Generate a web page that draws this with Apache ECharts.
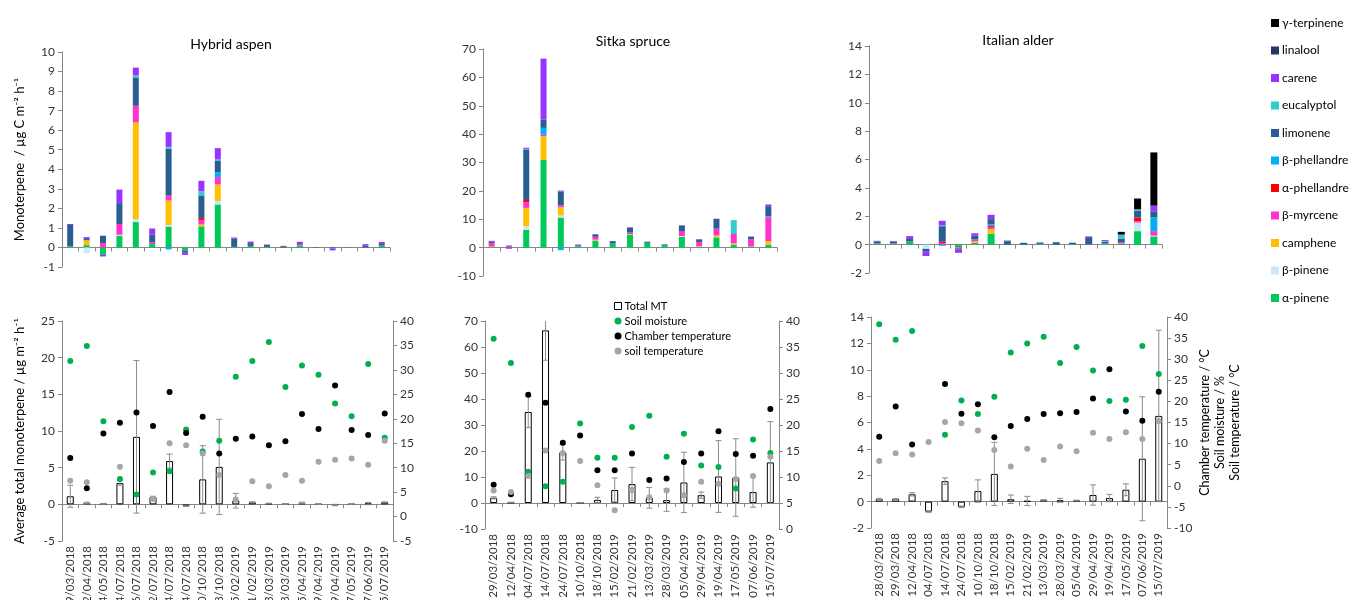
<!DOCTYPE html>
<html><head><meta charset="utf-8">
<script src="https://cdn.jsdelivr.net/npm/echarts@6/dist/echarts.min.js"></script>
<style>html,body{margin:0;padding:0;background:#fff}#c{width:1349px;height:600px}</style>
</head><body><div id="c"></div>
<script>
// ---------- categories ----------
const aspenDates = ['29/03/2018','12/04/2018','24/05/2018','04/07/2018','06/07/2018','12/07/2018','14/07/2018','24/07/2018','10/10/2018','18/10/2018','15/02/2019','21/02/2019','13/03/2019','28/03/2019','05/04/2019','29/04/2019','19/04/2019','17/05/2019','07/06/2019','15/07/2019'];
const sitkaDates = ['29/03/2018','12/04/2018','04/07/2018','14/07/2018','24/07/2018','10/10/2018','18/10/2018','15/02/2019','21/02/2019','13/03/2019','28/03/2019','05/04/2019','29/04/2019','19/04/2019','17/05/2019','07/06/2019','15/07/2019'];
const alderDates = ['28/03/2018','29/03/2018','12/04/2018','04/07/2018','14/07/2018','24/07/2018','10/10/2018','18/10/2018','15/02/2019','21/02/2019','13/03/2019','28/03/2019','05/04/2019','29/04/2019','19/04/2019','17/05/2019','07/06/2019','15/07/2019'];

// ---------- compounds (stack order bottom -> top) ----------
const compounds = ['α-pinene','β-pinene','camphene','β-myrcene','α-phellandrene','β-phellandrene','limonene','eucalyptol','carene','linalool','γ-terpinene'];
const compoundColors = ['#00C85A','#C9E8FB','#FFC000','#FF33CC','#FF0000','#00B0F0','#2A5E92','#33CCCC','#9933FF','#1F3864','#000000'];

// ---------- Hybrid aspen compounds ----------
const aspenAPinene   = [0.05,0.12,-0.38,0.6,1.3,0.17,1.07,-0.17,1.08,2.2,0.03,0.08,0.03,0,0.1,0,0,0,0,0.1];
const aspenBPinene   = [0,-0.3,0,0.05,0.15,0,0.08,0,0,0.18,0,0,0,0,0,0,0,0,0,0];
const aspenCamphene  = [0,0.25,0,0,4.95,0,1.25,0,0.1,0.84,0,0,0,0,0,0,0,0,0,0];
const aspenBMyrcene  = [0,0,0.22,0.55,0.85,0.08,0.25,0,0.2,0.38,0,0,0,0,0.03,0,0,0,0,0];
const aspenAPhell    = [0,0,0,0,0,0,0,0,0.12,0,0,0,0,0,0,0,0,0,0,0];
const aspenBPhell    = [0,0,0,0,0,0,-0.1,0,0,0.25,0,0,0,0,0,0,0,0,0,0];
const aspenLimonene  = [1.1,0.06,0.38,1.07,1.45,0.4,2.4,-0.07,1.16,0.6,0.42,0.14,0.1,0.06,0.04,0.02,-0.05,0.01,0.1,0.08];
const aspenEucalyptol= [0,0,0,0,0.1,0,0.1,0,0.22,0.05,0,0,0,0,0,0,0,0,0,0];
const aspenCarene    = [0.05,0.1,-0.08,0.69,0.4,0.32,0.75,-0.14,0.53,0.58,0.05,0.08,0.02,0,0.12,0,-0.1,0,0.07,0.1];
const aspenLinalool  = [0,0,0,0,0,0,0,0,0,0,0.01,0,0,0.02,0,0,0,0,0,0];
const aspenGTerpinene= [0,0,0,0,0,0,0,0,0,0,0,0,0,0,0,0,0,0,0,0];

// ---------- Sitka spruce compounds ----------
const sitkaAPinene   = [0.2,0.2,6.3,30.9,10.6,0.4,2.5,1.4,4.5,1.7,0.8,3.8,0.2,3.6,1.0,0.3,1.0];
const sitkaBPinene   = [0,0,1.2,0,0.7,0,0,0,0,0,0,0.3,0,0,0,0,0];
const sitkaCamphene  = [0.2,0,6.5,8.3,2.9,0,0.3,0,0.3,0,0,0,0.3,0.7,0.5,0.1,1.3];
const sitkaBMyrcene  = [1.2,0.5,1.9,0.6,0.7,0,1.0,0,0.5,0,0,1.4,1.5,2.4,3.3,2.6,8.4];
const sitkaAPhell    = [0,0,0.9,0,0,0,0,0,0,0,0,0.2,0,0,0,0,0];
const sitkaBPhell    = [0,0,0,2.4,-0.9,0,0,0,0,0,0,0,0,0,0,0,0.3];
const sitkaLimonene  = [0.6,0.1,17.8,3.0,4.9,0.4,0.8,0.9,1.7,0.4,0.3,2.1,0.9,3.4,0,0.9,3.6];
const sitkaEucalyptol= [0,0,0.2,0,0,0,0,0,0,0,0,0,0,0,4.9,0.1,0];
const sitkaCarene    = [0.2,-0.4,0.4,21.4,0.3,0.3,0.2,0,0.2,0,0.1,0.1,0.1,0.1,0,0,0.6];
const sitkaLinalool  = [0,0,0,0,0,0,0,0,0,0,0,0,0,0,0,0,0];
const sitkaGTerpinene= [0,0,0,0,0,0,0,0,0,0,0,0,0,0,0,0,0];

// ---------- Italian alder compounds ----------
const alderAPinene   = [0.08,0.03,0.22,0,0,-0.18,0.12,0.78,0,0,0.05,0,0.03,0,0.1,0.08,0.95,0.58];
const alderBPinene   = [0,0,0,-0.3,0,0,0,0,0,0,0,0,0,0,0,0,0.6,0.05];
const alderCamphene  = [0,0.04,0,0,0,0,0.1,0.3,0,0,0,0,0,0,0,0,0,0];
const alderBMyrcene  = [0,0,0,0,0.12,-0.08,0.15,0.17,0,0,0,0,0,0.03,0,0.1,0.1,0.32];
const alderAPhell    = [0,0,0,0,0.08,0,0,0.07,0,0,0,0,0,0,0,0,0.25,0];
const alderBPhell    = [0,0,0,0,-0.08,0,0,0.1,0,0,0,0,0,0,0,0,0,0.97];
const alderLimonene  = [0.15,0.15,0.18,-0.2,1.1,-0.1,0.25,0.38,0.24,0.13,0.1,0.17,0.1,0.5,0.1,0.25,0.5,0.43];
const alderEucalyptol= [0,0,0,0,0.05,0,0,0,0,0,0,0,0.02,0,0.05,0.25,0.08,0];
const alderCarene    = [0.04,0.04,0.2,-0.3,0.33,-0.22,0.18,0.3,0,0,0,0,0,0.05,0.07,0,0,0.4];
const alderLinalool  = [0,0,0,0,0,0,0,0,0.04,0,0,0,0,0,0,0.05,0,0];
const alderGTerpinene= [0,0,0,0,0,0,0,0,0,0,0,0,0,0,0,0.17,0.77,3.75];

// ---------- bottom panels ----------
const aspenTotal   = [1.1,0.2,0.05,2.9,9.2,1.0,5.9,-0.2,3.4,5.1,0.5,0.3,0.1,0.03,0.2,0.02,-0.1,0.02,0.1,0.3];
const aspenErr     = [1.5,0.1,0.05,0.3,10.4,0.1,0.95,0.1,4.6,6.5,1.0,0.05,0.05,0.03,0.1,0.02,0.1,0.02,0.15,0.05];
const aspenMoist   = [31.8,34.9,19.5,7.7,4.5,9.0,9.25,17.8,13.3,15.5,28.6,31.8,35.7,26.5,30.9,29.0,23.1,20.5,31.2,16.1];
const aspenChamber = [12.0,5.8,17.0,19.2,21.3,18.5,25.5,17.1,20.4,12.9,15.9,16.4,14.6,15.4,21.0,17.9,26.8,17.7,16.7,21.1];
const aspenSoilT   = [7.3,7.0,'-',10.2,'-',3.6,15.0,14.6,12.9,8.5,3.5,7.2,6.2,8.5,7.3,11.2,11.6,11.9,10.6,15.5];

const sitkaTotal   = [2.0,0.2,35.0,66.4,19.5,0.1,1.2,5.0,7.3,2.0,1.1,7.9,3.0,10.2,9.8,4.2,15.6];
const sitkaErr     = [0.4,0.1,6.0,11.5,3.0,0.1,1.0,4.6,6.4,4.0,4.3,11.6,1.2,13.8,14.9,5.8,15.7];
const sitkaMoist   = [36.6,31.9,11.0,8.2,9.1,20.3,13.7,13.7,19.6,21.8,13.9,18.3,12.2,11.9,7.8,17.2,14.6];
const sitkaChamber = [8.5,6.7,25.8,24.3,16.6,18.0,11.3,11.3,14.5,9.4,9.7,12.9,14.5,18.8,14.4,14.1,23.1];
const sitkaSoilT   = [7.4,7.1,10.2,15.1,14.6,13.1,8.4,3.6,7.5,6.1,7.4,6.5,9.1,8.7,9.6,10.2,13.9];

const alderTotal   = [0.2,0.2,0.55,-0.76,1.55,-0.4,0.8,2.1,0.18,0.05,0.1,0.1,0.08,0.5,0.27,0.9,3.25,6.5];
const alderErr     = [0.05,0.03,0.12,0.05,0.25,0.05,0.85,2.4,0.32,0.35,0.05,0.15,0.03,0.77,0.28,0.45,4.7,6.5];
const alderMoist   = [38.3,34.6,36.7,'-',12.1,20.2,17.0,21.1,31.6,33.7,35.3,29.1,32.9,27.3,20.1,20.4,33.1,26.5];
const alderChamber = [11.6,18.8,9.8,'-',24.1,17.1,19.3,11.5,14.2,15.8,17.0,17.2,17.5,20.7,27.6,17.6,15.4,22.3];
const alderSoilT   = [5.9,7.7,7.4,10.4,15.1,14.8,13.1,8.5,4.6,8.8,6.1,9.3,8.2,12.6,11.1,12.7,11.1,15.3];

// ---------- titles / axis names ----------
const panelTitles = ['Hybrid aspen','Sitka spruce','Italian alder'];
const topYName = 'Monoterpene  / µg C m\u207B\u00B2 h\u207B\u00B9';
const bottomYName = 'Average total monoterpene / µg m\u207B\u00B2 h\u207B\u00B9';
const rightYName = 'Chamber temperature / \u00B0C\nSoil moisture / %\nSoil temperature / \u00B0C';

// ---------- build ----------
const FF = 'Lato, "Noto Sans", sans-serif';
const AX = '#868686';
const LBL = '#333333';

const aspenStack = [aspenAPinene,aspenBPinene,aspenCamphene,aspenBMyrcene,aspenAPhell,aspenBPhell,aspenLimonene,aspenEucalyptol,aspenCarene,aspenLinalool,aspenGTerpinene];
const sitkaStack = [sitkaAPinene,sitkaBPinene,sitkaCamphene,sitkaBMyrcene,sitkaAPhell,sitkaBPhell,sitkaLimonene,sitkaEucalyptol,sitkaCarene,sitkaLinalool,sitkaGTerpinene];
const alderStack = [alderAPinene,alderBPinene,alderCamphene,alderBMyrcene,alderAPhell,alderBPhell,alderLimonene,alderEucalyptol,alderCarene,alderLinalool,alderGTerpinene];

const grid = [
  {left:62, width:328, top:52, height:215},
  {left:483, width:294, top:49, height:227},
  {left:869, width:293, top:46, height:227},
  {left:62, width:331, top:321, height:220},
  {left:485, width:294, top:321, height:208},
  {left:871, width:296, top:317, height:211}
].map(function(g){ return Object.assign({outerBoundsMode:'none', containLabel:false}, g); });

function zeroX(gi, data) {
  return {type:'category', gridIndex:gi, data:data, boundaryGap:true,
    axisLine:{show:true, onZero:true, lineStyle:{color:AX, width:1}},
    axisTick:{show:true, interval:0, length:4, lineStyle:{color:AX}},
    axisLabel:{show:false}, splitLine:{show:false}};
}
function labelX(gi, data) {
  return {type:'category', gridIndex:gi, data:data, boundaryGap:true, position:'bottom',
    axisLine:{show:false, onZero:false}, axisTick:{show:false},
    axisLabel:{show:true, interval:0, rotate:90, fontSize:11.5, color:LBL, fontFamily:FF, margin:5},
    splitLine:{show:false}};
}
function yAx(gi, min, max, interval, extra) {
  return Object.assign({type:'value', gridIndex:gi, min:min, max:max, interval:interval,
    splitLine:{show:false},
    axisLine:{show:true, lineStyle:{color:AX}},
    axisTick:{show:true, length:4, lineStyle:{color:AX}},
    axisLabel:{fontSize:12, color:LBL, fontFamily:FF, margin:7}}, extra || {});
}

const xAxis = [
  zeroX(0, aspenDates), zeroX(1, sitkaDates), zeroX(2, alderDates),
  zeroX(3, aspenDates), zeroX(4, sitkaDates), zeroX(5, alderDates),
  labelX(3, aspenDates), labelX(4, sitkaDates), labelX(5, alderDates)
];
const yAxis = [
  yAx(0, -1, 10, 1, {name:topYName, nameLocation:'middle', nameGap:36, nameTextStyle:{fontSize:13, color:'#000', fontFamily:FF}}),
  yAx(1, -10, 70, 10),
  yAx(2, -2, 14, 2),
  yAx(3, -5, 25, 5, {name:bottomYName, nameLocation:'middle', nameGap:36, nameTextStyle:{fontSize:13, color:'#000', fontFamily:FF}}),
  yAx(4, -10, 70, 10),
  yAx(5, -2, 14, 2),
  yAx(3, -5, 40, 5, {position:'right'}),
  yAx(4, 0, 40, 5, {position:'right'}),
  yAx(5, -10, 40, 5, {position:'right', name:rightYName, nameLocation:'middle', nameGap:30,
      nameTextStyle:{fontSize:12.5, color:'#000', fontFamily:FF, lineHeight:15, align:'center'}})
];

const series = [];
function addStack(key, stack, xi, yi, bw) {
  compounds.forEach(function(name, k) {
    series.push({name:name, type:'bar', stack:key, xAxisIndex:xi, yAxisIndex:yi, barWidth:bw,
      itemStyle:{color:compoundColors[k]}, data:stack[k], silent:true, animation:false});
  });
}
addStack('aspen', aspenStack, 0, 0, 6);
addStack('sitka', sitkaStack, 1, 1, 6);
addStack('alder', alderStack, 2, 2, 7);

function errRender(params, api) {
  const x = api.value(0);
  const lo = api.coord([x, api.value(1)]);
  const hi = api.coord([x, api.value(2)]);
  const w = 3;
  const st = {stroke:'#8C8C8C', lineWidth:1};
  return {type:'group', children:[
    {type:'line', shape:{x1:lo[0], y1:lo[1], x2:hi[0], y2:hi[1]}, style:st},
    {type:'line', shape:{x1:lo[0]-w, y1:lo[1], x2:lo[0]+w, y2:lo[1]}, style:st},
    {type:'line', shape:{x1:hi[0]-w, y1:hi[1], x2:hi[0]+w, y2:hi[1]}, style:st}
  ]};
}
function addBottom(total, err, moist, chamber, soilT, xi, yl, yr) {
  series.push({name:'Total MT', type:'bar', xAxisIndex:xi, yAxisIndex:yl, barWidth:7,
    itemStyle:{color:'#fff', borderColor:'#000', borderWidth:1}, data:total, z:2, animation:false});
  series.push({type:'custom', xAxisIndex:xi, yAxisIndex:yl, clip:true, z:3, animation:false,
    encode:{x:0, y:[1,2]}, renderItem:errRender,
    data: total.map(function(v, i){ return [i, v - err[i], v + err[i]]; })});
  series.push({name:'Soil moisture', type:'scatter', xAxisIndex:xi, yAxisIndex:yr, symbolSize:6,
    itemStyle:{color:'#00B050', opacity:1}, data:moist, z:4, animation:false});
  series.push({name:'Chamber temperature', type:'scatter', xAxisIndex:xi, yAxisIndex:yr, symbolSize:6,
    itemStyle:{color:'#000000', opacity:1}, data:chamber, z:4, animation:false});
  series.push({name:'soil temperature', type:'scatter', xAxisIndex:xi, yAxisIndex:yr, symbolSize:6,
    itemStyle:{color:'#A6A6A6', opacity:1}, data:soilT, z:4, animation:false});
}
addBottom(aspenTotal, aspenErr, aspenMoist, aspenChamber, aspenSoilT, 3, 3, 6);
addBottom(sitkaTotal, sitkaErr, sitkaMoist, sitkaChamber, sitkaSoilT, 4, 4, 7);
addBottom(alderTotal, alderErr, alderMoist, alderChamber, alderSoilT, 5, 5, 8);

const titleX = [231, 633, 1018];
const titleY = [44, 41, 40];

const option = {
  backgroundColor:'#fff',
  animation:false,
  textStyle:{fontFamily:FF},
  grid: grid,
  xAxis: xAxis,
  yAxis: yAxis,
  legend: [
    {orient:'vertical', left:1266, top:11, icon:'rect', itemWidth:8, itemHeight:8, itemGap:13.5,
     textStyle:{fontSize:12, color:'#000', fontFamily:FF, lineHeight:14, padding:[0,0,0,-2]},
     data: compounds.slice().reverse(), selectedMode:false},
    {orient:'vertical', left:609, top:294, itemWidth:7, itemHeight:7, itemGap:1,
     textStyle:{fontSize:11, color:'#000', fontFamily:FF, lineHeight:14, padding:[0,0,0,-2]},
     selectedMode:false,
     data:[
       {name:'Total MT', icon:'rect', itemStyle:{color:'#fff', borderColor:'#000', borderWidth:1}},
       {name:'Soil moisture', icon:'circle', itemStyle:{opacity:1}},
       {name:'Chamber temperature', icon:'circle', itemStyle:{opacity:1}},
       {name:'soil temperature', icon:'circle', itemStyle:{opacity:1}}
     ]}
  ],
  graphic: panelTitles.map(function(t, i){
    return {type:'text', x:titleX[i], y:titleY[i], silent:true,
      style:{text:t, fontSize:14, fontFamily:FF, fill:'#000', align:'center', verticalAlign:'middle'}};
  }),
  series: series
};

const chart = echarts.init(document.getElementById('c'), null, {renderer:'canvas'});
chart.setOption(option);
</script>
</body></html>
